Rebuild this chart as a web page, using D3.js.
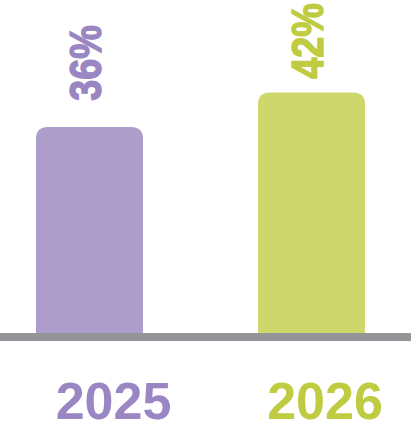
<!DOCTYPE html>
<html>
<head>
<meta charset="utf-8">
<script src="https://cdn.jsdelivr.net/npm/d3@7"></script>
<style>
  html, body { margin: 0; padding: 0; background: #fff; }
  svg { display: block; }
</style>
</head>
<body>
<div class="grafico"></div>
<script>
// datos del grafico
var years = ["2025", "2026"];
var values = [36, 42];
var labels = ["36%", "42%"];
var barColors = ["#ad9dcb", "#ced76c"];
var textColors = ["#9a86c3", "#bfcb40"];

var w = 411, h = 423;
var base = 333;

var svg = d3.select(".grafico")
  .append("svg")
  .attr("width", w)
  .attr("height", h)
  .style("background", "#FFFFFF");

var x = d3.scaleBand()
  .domain(years)
  .range([-21.5, 422.5])
  .paddingInner(0.518)
  .paddingOuter(0.259);

var y = d3.scaleLinear()
  .domain([0, 58])
  .range([base, 1]);

// posicion de las etiquetas rotadas
var yLab = d3.scaleLinear()
  .domain([0, 58])
  .range([233, 20]);

// posicion de los años
var xYear = d3.scalePoint()
  .domain(years)
  .range([113.5, 325]);

function topRounded(x0, y0, bw, bh, r) {
  return "M" + x0 + "," + (y0 + bh) +
    "V" + (y0 + r) +
    "Q" + x0 + "," + y0 + " " + (x0 + r) + "," + y0 +
    "H" + (x0 + bw - r) +
    "Q" + (x0 + bw) + "," + y0 + " " + (x0 + bw) + "," + (y0 + r) +
    "V" + (y0 + bh) + "Z";
}

var g = svg.selectAll("g.barra")
  .data(years)
  .enter()
  .append("g")
  .attr("class", "barra");

g.append("path")
  .attr("d", function(d, i) {
    return topRounded(x(d), y(values[i]), x.bandwidth(), base - y(values[i]) + 2, 12);
  })
  .attr("fill", function(d, i) { return barColors[i]; });

g.append("text")
  .attr("transform", function(d, i) {
    return "translate(" + (x(d) + x.bandwidth() / 2 + 11) + "," + yLab(values[i]) + ") rotate(-90) scale(0.86,1)";
  })
  .attr("font-family", "'Liberation Sans', Arial, sans-serif")
  .attr("font-weight", "bold")
  .attr("font-size", 44)
  .attr("text-anchor", "start")
  .attr("fill", function(d, i) { return textColors[i]; })
  .attr("stroke", function(d, i) { return textColors[i]; })
  .attr("stroke-width", 1.4)
  .text(function(d, i) { return labels[i]; });

// linea base
svg.append("rect")
  .attr("x", 0)
  .attr("y", y(0))
  .attr("width", w)
  .attr("height", 8)
  .attr("fill", "#939598");

g.append("text")
  .attr("x", function(d) { return xYear(d); })
  .attr("y", 419)
  .attr("font-family", "'Liberation Sans', Arial, sans-serif")
  .attr("font-weight", "bold")
  .attr("font-size", 52)
  .attr("text-anchor", "middle")
  .attr("fill", function(d, i) { return textColors[i]; })
  .text(function(d) { return d; });
</script>
</body>
</html>
